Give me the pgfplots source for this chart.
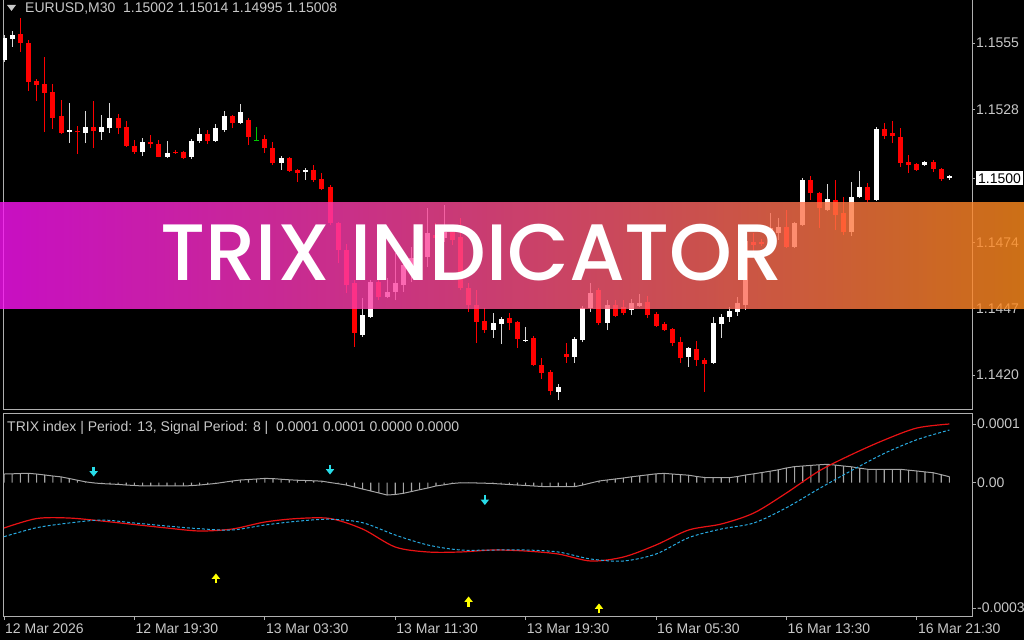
\documentclass[border=0pt]{standalone}
\usepackage{pgfplots}
\pgfplotsset{compat=1.18}
\usepackage{pgfplotstable}
\usepackage{fontspec}
\setmainfont{Liberation Sans}
\newfontfamily\bannerfont{Poppins Medium}
\definecolor{mtgray}{RGB}{200,200,200}
\definecolor{frame}{RGB}{175,175,175}
\definecolor{wickup}{RGB}{215,215,215}
\definecolor{candred}{RGB}{255,0,0}
\definecolor{candgreen}{RGB}{0,200,0}
\definecolor{trixred}{RGB}{232,18,20}
\definecolor{sigblue}{RGB}{40,170,225}
\definecolor{histgray}{RGB}{165,165,165}
\definecolor{arrcyan}{RGB}{40,220,232}
\definecolor{arryel}{RGB}{255,255,0}
\definecolor{bannerL}{RGB}{250,19,244}
\definecolor{bannerR}{RGB}{255,140,28}
\setlength{\fboxsep}{2pt}

\pgfdeclareplotmark{arrdn}{%
  \pgfsetlinewidth{2.4pt}%
  \pgfpathmoveto{\pgfqpoint{0pt}{5.5pt}}\pgfpathlineto{\pgfqpoint{0pt}{0pt}}\pgfusepathqstroke
  \pgfpathmoveto{\pgfqpoint{-4.2pt}{0.8pt}}\pgfpathlineto{\pgfqpoint{4.2pt}{0.8pt}}\pgfpathlineto{\pgfqpoint{0pt}{-4.5pt}}\pgfpathclose\pgfusepathqfill}
\pgfdeclareplotmark{arrup}{%
  \pgfsetlinewidth{2.4pt}%
  \pgfpathmoveto{\pgfqpoint{0pt}{-5.5pt}}\pgfpathlineto{\pgfqpoint{0pt}{0pt}}\pgfusepathqstroke
  \pgfpathmoveto{\pgfqpoint{-4.2pt}{-0.8pt}}\pgfpathlineto{\pgfqpoint{4.2pt}{-0.8pt}}\pgfpathlineto{\pgfqpoint{0pt}{4.5pt}}\pgfpathclose\pgfusepathqfill}

% bullish candles: index open high low close
\pgfplotstableread{
i o h l c
0 1.15481 1.15583 1.15473 1.15570
1 1.15566 1.15599 1.15534 1.15583
8 1.15190 1.15306 1.15143 1.15196
10 1.15184 1.15274 1.15143 1.15209
12 1.15188 1.15257 1.15156 1.15209
13 1.15204 1.15306 1.15184 1.15245
17 1.15107 1.15164 1.15091 1.15148
20 1.15087 1.15152 1.15082 1.15103
23 1.15087 1.15160 1.15078 1.15152
24 1.15152 1.15204 1.15143 1.15180
26 1.15152 1.15221 1.15148 1.15204
27 1.15196 1.15274 1.15188 1.15253
29 1.15225 1.15302 1.15221 1.15270
34 1.15062 1.15091 1.15034 1.15082
37 1.15026 1.15042 1.14993 1.15034
44 1.14363 1.14513 1.14355 1.14444
45 1.14436 1.14586 1.14432 1.14578
47 1.14517 1.14595 1.14513 1.14538
48 1.14538 1.14696 1.14505 1.14574
49 1.14566 1.14700 1.14538 1.14647
50 1.14647 1.14721 1.14578 1.14676
51 1.14676 1.14769 1.14660 1.14708
52 1.14680 1.14879 1.14639 1.14778
54 1.14757 1.14891 1.14741 1.14782
60 1.14383 1.14452 1.14351 1.14412
61 1.14408 1.14436 1.14326 1.14428
64 1.14340 1.14395 1.14334 1.14344
68 1.14131 1.14164 1.14098 1.14151
70 1.14273 1.14355 1.14249 1.14347
71 1.14342 1.14481 1.14334 1.14473
72 1.14473 1.14574 1.14456 1.14534
74 1.14412 1.14505 1.14383 1.14485
77 1.14464 1.14509 1.14444 1.14493
78 1.14481 1.14529 1.14477 1.14493
84 1.14273 1.14314 1.14233 1.14310
87 1.14249 1.14436 1.14245 1.14412
88 1.14408 1.14448 1.14351 1.14436
89 1.14436 1.14477 1.14416 1.14460
90 1.14456 1.14517 1.14440 1.14493
91 1.14485 1.14769 1.14464 1.14745
94 1.14769 1.14859 1.14761 1.14798
95 1.14778 1.14839 1.14749 1.14802
97 1.14721 1.14822 1.14717 1.14818
98 1.14810 1.15001 1.14806 1.14993
101 1.14871 1.14977 1.14867 1.14916
104 1.14782 1.14985 1.14765 1.14924
105 1.14924 1.15030 1.14920 1.14965
107 1.14912 1.15209 1.14908 1.15200
113 1.15054 1.15070 1.15050 1.15066
116 1.15002 1.15014 1.14995 1.15008
}\upc

% bearish candles: index open high low close
\pgfplotstableread{
i o h l c
2 1.15587 1.15652 1.15514 1.15550
3 1.15550 1.15562 1.15355 1.15392
4 1.15396 1.15404 1.15314 1.15379
5 1.15383 1.15493 1.15188 1.15347
6 1.15351 1.15383 1.15200 1.15245
7 1.15253 1.15318 1.15180 1.15184
9 1.15192 1.15213 1.15099 1.15188
11 1.15209 1.15314 1.15123 1.15192
14 1.15245 1.15261 1.15180 1.15204
15 1.15209 1.15233 1.15127 1.15131
16 1.15131 1.15156 1.15099 1.15107
18 1.15148 1.15176 1.15123 1.15139
19 1.15139 1.15156 1.15085 1.15087
21 1.15107 1.15115 1.15099 1.15103
22 1.15107 1.15111 1.15078 1.15082
25 1.15180 1.15196 1.15139 1.15152
28 1.15253 1.15257 1.15204 1.15225
30 1.15237 1.15245 1.15135 1.15168
32 1.15160 1.15176 1.15103 1.15123
33 1.15123 1.15148 1.15054 1.15062
35 1.15082 1.15085 1.15026 1.15030
36 1.15034 1.15036 1.14985 1.15021
38 1.15034 1.15054 1.14985 1.14993
39 1.14997 1.15021 1.14952 1.14956
40 1.14965 1.14973 1.14810 1.14818
41 1.14818 1.14822 1.14656 1.14708
42 1.14708 1.14733 1.14534 1.14566
43 1.14574 1.14586 1.14314 1.14371
46 1.14578 1.14599 1.14505 1.14517
53 1.14769 1.14818 1.14721 1.14757
55 1.14782 1.14810 1.14729 1.14749
56 1.14761 1.14839 1.14546 1.14554
57 1.14554 1.14574 1.14456 1.14485
58 1.14485 1.14546 1.14330 1.14416
59 1.14420 1.14473 1.14371 1.14383
62 1.14432 1.14452 1.14383 1.14412
63 1.14416 1.14420 1.14310 1.14347
65 1.14351 1.14359 1.14237 1.14241
66 1.14241 1.14269 1.14184 1.14208
67 1.14212 1.14220 1.14119 1.14135
69 1.14286 1.14330 1.14249 1.14274
73 1.14546 1.14554 1.14403 1.14412
75 1.14485 1.14505 1.14436 1.14440
76 1.14477 1.14505 1.14444 1.14452
79 1.14497 1.14521 1.14432 1.14444
80 1.14448 1.14456 1.14395 1.14399
81 1.14408 1.14416 1.14379 1.14383
82 1.14387 1.14391 1.14318 1.14330
83 1.14334 1.14355 1.14249 1.14269
85 1.14306 1.14338 1.14237 1.14261
86 1.14261 1.14269 1.14131 1.14245
92 1.14741 1.14778 1.14680 1.14729
93 1.14741 1.14753 1.14725 1.14733
96 1.14802 1.14871 1.14717 1.14721
99 1.14993 1.15009 1.14912 1.14940
100 1.14940 1.14944 1.14798 1.14879
102 1.14912 1.14993 1.14790 1.14851
103 1.14859 1.14924 1.14769 1.14782
106 1.14965 1.14981 1.14904 1.14912
108 1.15200 1.15225 1.15160 1.15172
109 1.15184 1.15233 1.15143 1.15172
110 1.15168 1.15204 1.15046 1.15062
111 1.15066 1.15095 1.15021 1.15054
112 1.15058 1.15062 1.15030 1.15034
114 1.15066 1.15074 1.15026 1.15038
115 1.15038 1.15042 1.14989 1.14997
}\dnc

% doji bar drawn in the line colour
\pgfplotstableread{
i o h l c
31 1.15152 1.15209 1.15150 1.15155
}\dojic

% TRIX and signal (units of 1e-4)
\pgfplotstableread{
i r b
0 -1.075 -1.281
4 -0.850 -1.068
8 -0.838 -0.956
12 -0.909 -0.885
16 -0.992 -0.956
20 -1.075 -1.028
24 -1.146 -1.092
28 -1.099 -1.122
32 -0.933 -1.004
36 -0.850 -0.914
40 -0.850 -0.866
44 -1.099 -0.949
48 -1.526 -1.241
52 -1.644 -1.478
56 -1.644 -1.597
60 -1.597 -1.597
64 -1.621 -1.597
68 -1.692 -1.644
72 -1.858 -1.811
76 -1.763 -1.858
80 -1.478 -1.692
84 -1.122 -1.305
88 -0.980 -1.099
92 -0.719 -0.956
96 -0.244 -0.593
100 0.278 -0.142
104 0.669 0.290
108 1.013 0.695
112 1.298 1.020
116 1.393 1.251
}\trix

% histogram TRIX - signal (units of 1e-4)
\pgfplotstableread{
i g
0 0.206
1 0.211
2 0.218
3 0.223
4 0.206
5 0.183
6 0.159
7 0.138
8 0.100
9 0.059
10 0.021
11 -0.005
12 -0.021
13 -0.031
14 -0.040
15 -0.055
16 -0.066
17 -0.078
18 -0.078
19 -0.078
20 -0.078
21 -0.078
22 -0.078
23 -0.069
24 -0.055
25 -0.036
26 -0.017
27 0.012
28 0.040
29 0.064
30 0.076
31 0.088
32 0.102
33 0.097
34 0.083
35 0.069
36 0.059
37 0.052
38 0.045
39 0.036
40 0.005
41 -0.024
42 -0.055
43 -0.102
44 -0.150
45 -0.197
46 -0.244
47 -0.292
48 -0.280
49 -0.252
50 -0.209
51 -0.166
52 -0.126
53 -0.078
54 -0.050
55 -0.019
56 -0.002
57 -0.005
58 -0.007
59 -0.012
60 -0.019
61 -0.031
62 -0.043
63 -0.055
64 -0.066
65 -0.078
66 -0.090
67 -0.095
68 -0.095
69 -0.095
70 -0.095
71 -0.055
72 -0.007
73 0.040
74 0.064
75 0.088
76 0.112
77 0.140
78 0.164
79 0.187
80 0.211
81 0.221
82 0.206
83 0.192
84 0.178
85 0.147
86 0.123
87 0.119
88 0.119
89 0.119
90 0.147
91 0.183
92 0.211
93 0.242
94 0.273
95 0.306
96 0.349
97 0.382
98 0.396
99 0.411
100 0.425
101 0.437
102 0.418
103 0.396
104 0.377
105 0.344
106 0.318
107 0.318
108 0.318
109 0.318
110 0.318
111 0.297
112 0.278
113 0.256
114 0.237
115 0.190
116 0.142
}\hist

\begin{document}
\begin{tikzpicture}
\useasboundingbox (0,0) rectangle (1024pt,640pt);
\fill[black] (0,0) rectangle (1024pt,640pt);

% ---------------- price panel ----------------
\begin{axis}[
  at={(3pt,230pt)}, anchor=south west, scale only axis,
  width=969pt, height=411pt,
  xmin=-0.1227, xmax=118.77, ymin=1.1405776, ymax=1.157290,
  axis line style={draw=frame, line width=1pt},
  xtick=\empty,
  scaled y ticks=false,
  ytick={1.1420,1.1447,1.1474,1.1500,1.1528,1.1555},
  yticklabels={1.1420,1.1447,1.1474,{\colorbox{white}{\textcolor{black}{1.1500}}},1.1528,1.1555},
  ytick pos=right, yticklabel pos=right, tick align=outside,
  major tick length=3pt, tick style={draw=frame, line width=0.8pt},
  yticklabel style={font=\fontsize{14}{16}\selectfont, text=mtgray, anchor=west, inner sep=1pt},
]
% wicks
\addplot[draw=none, mark=none, forget plot, error bars/.cd, y dir=plus, y explicit, error mark=none,
  error bar style={draw=wickup, line width=1pt, solid}]
  table[x=i, y=l, y error plus expr=\thisrow{h}-\thisrow{l}] {\upc};
\addplot[draw=none, mark=none, forget plot, error bars/.cd, y dir=plus, y explicit, error mark=none,
  error bar style={draw=candred, line width=1pt, solid}]
  table[x=i, y=l, y error plus expr=\thisrow{h}-\thisrow{l}] {\dnc};
\addplot[draw=none, mark=none, forget plot, error bars/.cd, y dir=plus, y explicit, error mark=none,
  error bar style={draw=candgreen, line width=1pt, solid}]
  table[x=i, y=l, y error plus expr=\thisrow{h}-\thisrow{l}] {\dojic};
% bodies
\addplot[draw=none, mark=none, forget plot, error bars/.cd, y dir=plus, y explicit, error mark=none,
  error bar style={draw=white, line width=5pt, solid}]
  table[x=i, y=o, y error plus expr=\thisrow{c}-\thisrow{o}] {\upc};
\addplot[draw=none, mark=none, forget plot, error bars/.cd, y dir=plus, y explicit, error mark=none,
  error bar style={draw=candred, line width=5pt, solid}]
  table[x=i, y=c, y error plus expr=\thisrow{o}-\thisrow{c}] {\dnc};
\addplot[draw=none, mark=none, forget plot, error bars/.cd, y dir=plus, y explicit, error mark=none,
  error bar style={draw=candgreen, line width=5pt, solid}]
  table[x=i, y=o, y error plus expr=\thisrow{c}-\thisrow{o}] {\dojic};
\end{axis}

% ---------------- TRIX panel ----------------
\begin{axis}[
  at={(3pt,24pt)}, anchor=south west, scale only axis,
  width=969pt, height=203pt,
  xmin=-0.1227, xmax=118.77, ymin=-3.163, ymax=1.654,
  axis line style={draw=frame, line width=1pt},
  xtick={0,16,32,48,64,80,96,112},
  xticklabels={12 Mar 2026,12 Mar 19:30,13 Mar 03:30,13 Mar 11:30,13 Mar 19:30,16 Mar 05:30,16 Mar 13:30,16 Mar 21:30},
  xtick pos=left, ytick pos=right, yticklabel pos=right,
  scaled y ticks=false,
  ytick={-2.973,0,1.393}, yticklabels={-0.0003,0.00,0.0001},
  tick align=outside, major tick length=4pt, tick style={draw=frame, line width=0.8pt},
  xticklabel style={font=\fontsize{14}{16}\selectfont, text=mtgray, anchor=north west, inner sep=0pt, xshift=1pt, yshift=-4pt},
  yticklabel style={font=\fontsize{14}{16}\selectfont, text=mtgray, anchor=west, inner sep=1pt},
]
\addplot[ybar, bar width=1.1pt, fill=histgray, draw=none, forget plot] table[x=i, y=g] {\hist};
\addplot[histgray, line width=1pt, mark=none, forget plot] table[x=i, y=g] {\hist};
\addplot[trixred, line width=1.2pt, mark=none, smooth, tension=0.5, forget plot] table[x=i, y=r] {\trix};
\addplot[sigblue, line width=1pt, mark=none, smooth, tension=0.5, dash pattern=on 3pt off 2pt, forget plot] table[x=i, y=b] {\trix};
\addplot[only marks, mark=arrdn, color=arrcyan, mark options={fill=arrcyan, draw=arrcyan}, forget plot]
  coordinates {(11,0.254) (40,0.301) (59,-0.422)};
\addplot[only marks, mark=arrup, color=arryel, mark options={fill=arryel, draw=arryel}, forget plot]
  coordinates {(26,-2.261) (57,-2.807) (73,-2.973)};
\end{axis}

% panel headers
\fill[mtgray] (7pt,635pt) -- (16pt,635pt) -- (11.5pt,629pt) -- cycle;
\node[anchor=base west, inner sep=0pt, text=mtgray, font=\fontsize{14}{16}\selectfont] at (25pt,627pt)
  {EURUSD,M30\ \ 1.15002 1.15014 1.14995 1.15008};
\node[anchor=base west, inner sep=0pt, text=mtgray, font=\fontsize{14}{16}\selectfont] at (7pt,209pt)
  {TRIX index | Period: 13, Signal Period: 8 |\ \ 0.0001 0.0001 0.0000 0.0000};

% banner
\shade[left color=bannerL, right color=bannerR, opacity=0.8] (0pt,331pt) rectangle (1024pt,437pt);
\node[anchor=base west, inner sep=0pt, text=white, font=\bannerfont\fontsize{80}{80}\selectfont] at (160pt,359pt) {TRIX INDICATOR};
\end{tikzpicture}
\end{document}
